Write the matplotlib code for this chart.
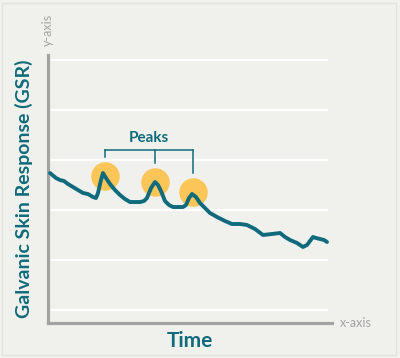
import matplotlib.pyplot as plt
from matplotlib.patches import Rectangle

# GSR signal (arbitrary time / response units)
time = [2, 8, 12, 16, 20, 25, 30, 35, 40, 45, 48, 50, 53, 55, 58, 62, 67, 72, 77, 82,
        87, 92, 96, 99, 103, 107, 110, 113, 117, 121, 125, 130, 135, 138, 141, 144, 148,
        152, 157, 162, 169, 177, 184, 192, 199, 207, 215, 224, 232, 237, 242, 249, 255,
        259, 265, 268, 272, 276, 279]
gsr = [3.74, 3.64, 3.60, 3.58, 3.52, 3.46, 3.40, 3.34, 3.32, 3.26, 3.24, 3.34, 3.60, 3.74,
       3.64, 3.52, 3.40, 3.30, 3.22, 3.16, 3.16, 3.16, 3.18, 3.24, 3.44, 3.56, 3.50, 3.38,
       3.18, 3.10, 3.06, 3.06, 3.06, 3.10, 3.24, 3.32, 3.26, 3.14, 3.04, 2.94, 2.86, 2.78,
       2.72, 2.72, 2.70, 2.62, 2.50, 2.52, 2.54, 2.46, 2.40, 2.34, 2.26, 2.30, 2.46, 2.44,
       2.42, 2.40, 2.36]

# highlighted peaks
peak_t = [57, 107, 145]
peak_v = [3.68, 3.56, 3.36]
peak_top = [4.06, 3.94, 3.74]   # where the bracket legs stop
bracket_y = 4.2

grid_levels = [1, 2, 3, 4, 5, 6]

bg = '#f0f0ec'
teal = '#0f6b7b'
gold = '#fbc657'
grey = '#a3a3a3'

plt.rcParams['font.family'] = ['Lato', 'DejaVu Sans']

fig = plt.figure(figsize=(4, 3.58), dpi=100, facecolor=bg)
fig.patches.append(Rectangle((0.006, 0.008), 0.985, 0.983, transform=fig.transFigure,
                             fill=False, edgecolor='#e2e2de', lw=1))

ax = fig.add_axes([0.12, 0.098, 0.71, 0.748])
ax.set_facecolor(bg)
ax.set_xlim(0, 284)
ax.set_ylim(0.74, 6.1)

# white grid lines that stop short of the axis end
ax.hlines(grid_levels, 0, 280, colors='white', lw=1.6, zorder=1)

ax.scatter(peak_t, peak_v, s=420, color=gold, zorder=2, linewidths=0)
ax.plot(time, gsr, color=teal, lw=2.8, solid_joinstyle='round', solid_capstyle='round', zorder=3)

# bracket over the peaks
ax.plot([peak_t[0], peak_t[-1]], [bracket_y, bracket_y], color=teal, lw=1.1, zorder=3)
for t, top in zip(peak_t, peak_top):
    ax.plot([t, t], [bracket_y, top], color=teal, lw=1.1, zorder=3)
ax.text(101, bracket_y + 0.1, 'Peaks', color=teal, fontsize=11, fontweight='bold',
        ha='center', va='bottom')

for s in ['top', 'right']:
    ax.spines[s].set_visible(False)
for s in ['left', 'bottom']:
    ax.spines[s].set_color(grey)
    ax.spines[s].set_linewidth(2.3)
ax.set_xticks([])
ax.set_yticks([])

ax.set_xlabel('Time', color=teal, fontsize=15, fontweight='bold', labelpad=6)
ax.set_ylabel('Galvanic Skin Response (GSR)', color=teal, fontsize=14, fontweight='bold',
              labelpad=11)

fig.text(0.85, 0.098, 'x-axis', color=grey, fontsize=9, ha='left', va='center')
fig.text(0.12, 0.915, 'y-axis', color=grey, fontsize=9, ha='center', va='center',
         rotation=90)

fig.savefig('out.png', dpi=100, facecolor=bg)
